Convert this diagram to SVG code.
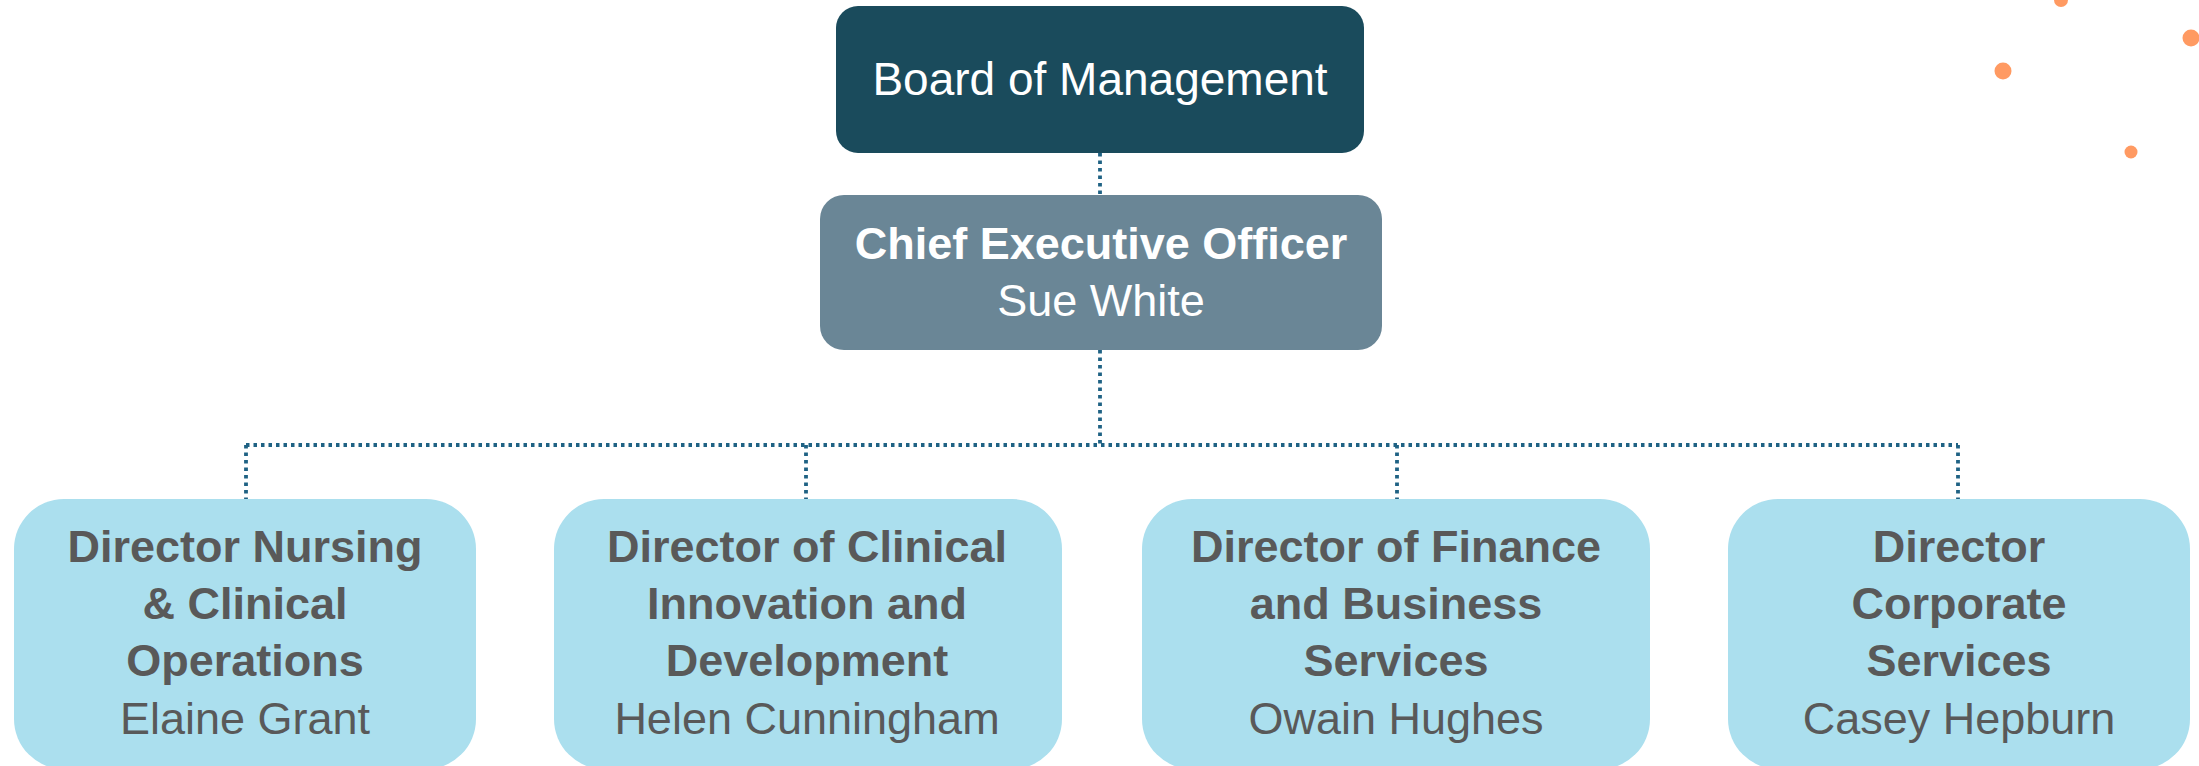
<svg xmlns="http://www.w3.org/2000/svg" width="2199" height="766" viewBox="0 0 2199 766">
  <style>
    text { font-family: "Liberation Sans", Arial, sans-serif; text-anchor: middle; }
    .board { fill: #1a4b5c; }
    .ceo { fill: #6a8696; }
    .dir { fill: #abdfee; }
    .w { fill: #ffffff; }
    .g { fill: #595959; }
    .b { font-weight: 700; font-size: 45px; }
    .r { font-weight: 400; font-size: 45px; }
    .conn { fill: none; stroke: #1f6284; stroke-width: 3.8; stroke-dasharray: 3.5 4; }
    .dot { fill: #ff9a62; }
  </style>
  <rect width="2199" height="766" fill="#ffffff"/>
  <g id="decor">
    <circle class="dot" cx="2061" cy="0" r="7"/>
    <circle class="dot" cx="2191" cy="38" r="8.5"/>
    <circle class="dot" cx="2003" cy="71" r="8.5"/>
    <circle class="dot" cx="2131" cy="152" r="6.5"/>
  </g>
  <g id="connectors">
    <path class="conn" d="M1100 153 V195"/>
    <path class="conn" d="M1100 350 V445"/>
    <path class="conn" d="M246 445 H1958"/>
    <path class="conn" d="M246 445 V499"/>
    <path class="conn" d="M806 445 V499"/>
    <path class="conn" d="M1397 445 V499"/>
    <path class="conn" d="M1958 445 V499"/>
  </g>
  <g id="board">
    <rect class="board" x="836" y="6" width="528" height="147" rx="22"/>
    <text class="w" x="1100" y="95" font-size="46">Board of Management</text>
  </g>
  <g id="ceo">
    <rect class="ceo" x="820" y="195" width="562" height="155" rx="24"/>
    <text class="w b" x="1101" y="259">Chief Executive Officer</text>
    <text class="w r" x="1101" y="316">Sue White</text>
  </g>
  <g id="dir-nursing">
    <rect class="dir" x="14" y="499" width="462" height="270" rx="50"/>
    <text class="g b" x="245" y="562">Director Nursing</text>
    <text class="g b" x="245" y="619">&amp; Clinical</text>
    <text class="g b" x="245" y="676">Operations</text>
    <text class="g r" x="245" y="734">Elaine Grant</text>
  </g>
  <g id="dir-innovation">
    <rect class="dir" x="554" y="499" width="508" height="270" rx="50"/>
    <text class="g b" x="807" y="562">Director of Clinical</text>
    <text class="g b" x="807" y="619">Innovation and</text>
    <text class="g b" x="807" y="676">Development</text>
    <text class="g r" x="807" y="734">Helen Cunningham</text>
  </g>
  <g id="dir-finance">
    <rect class="dir" x="1142" y="499" width="508" height="270" rx="50"/>
    <text class="g b" x="1396" y="562">Director of Finance</text>
    <text class="g b" x="1396" y="619">and Business</text>
    <text class="g b" x="1396" y="676">Services</text>
    <text class="g r" x="1396" y="734">Owain Hughes</text>
  </g>
  <g id="dir-corporate">
    <rect class="dir" x="1728" y="499" width="462" height="270" rx="50"/>
    <text class="g b" x="1959" y="562">Director</text>
    <text class="g b" x="1959" y="619">Corporate</text>
    <text class="g b" x="1959" y="676">Services</text>
    <text class="g r" x="1959" y="734">Casey Hepburn</text>
  </g>
</svg>
